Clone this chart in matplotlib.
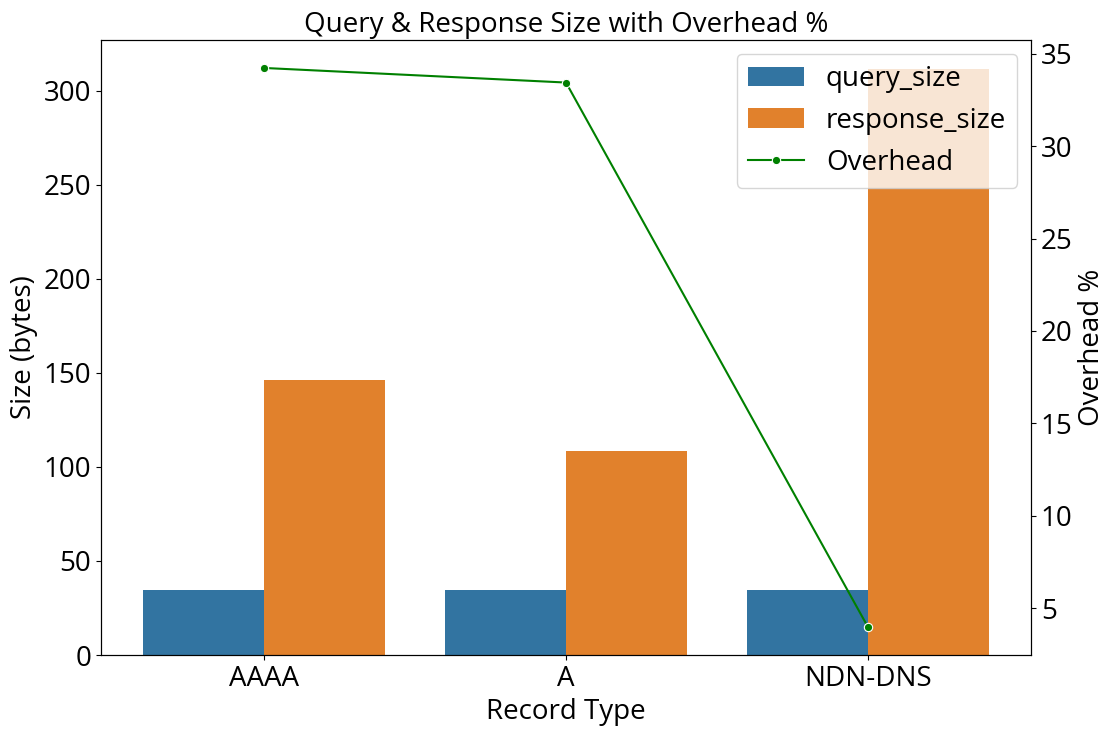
import matplotlib
matplotlib.use("Agg")
import matplotlib.pyplot as plt
import numpy as np

record_types = ["AAAA", "A", "NDN-DNS"]
query_size = [34.5, 34.5, 34.5]
response_size = [146, 108.3, 311.5]
overhead_pct = [34.24, 33.45, 3.97]

plt.rcParams['font.family'] = ['Open Sans', 'DejaVu Sans']
plt.rcParams['font.size'] = 20

fig = plt.figure(figsize=(11.15, 7.36), dpi=100)
ax = fig.add_axes([101/1115, (736-655)/736, (1031-101)/1115, (655-40)/736])

x = np.arange(len(record_types))
w = 0.4
b1 = ax.bar(x - w/2, query_size, width=w, color="#3274a1", label="query_size")
b2 = ax.bar(x + w/2, response_size, width=w, color="#e1812c", label="response_size")
ax.set_xticks(x)
ax.set_xticklabels(record_types)
ax.set_xlim(-0.54, 2.54)
ax.set_ylim(0, max(response_size) * 1.05)
ax.set_xlabel("Record Type")
ax.set_ylabel("Size (bytes)")
ax.set_title("Query & Response Size with Overhead %", fontsize=20)

ax2 = ax.twinx()
l, = ax2.plot(x, overhead_pct, color="green", marker="o", markersize=6,
              markeredgecolor="white", markeredgewidth=0.8, linewidth=1.5, label="Overhead")
ax2.set_ylabel("Overhead %")
ax2.set_xlim(-0.54, 2.54)
ax2.margins(y=0.05)

ax2.legend(handles=[b1, b2, l], loc="upper right", fontsize=20)

fig.savefig("out.png", dpi=100)
